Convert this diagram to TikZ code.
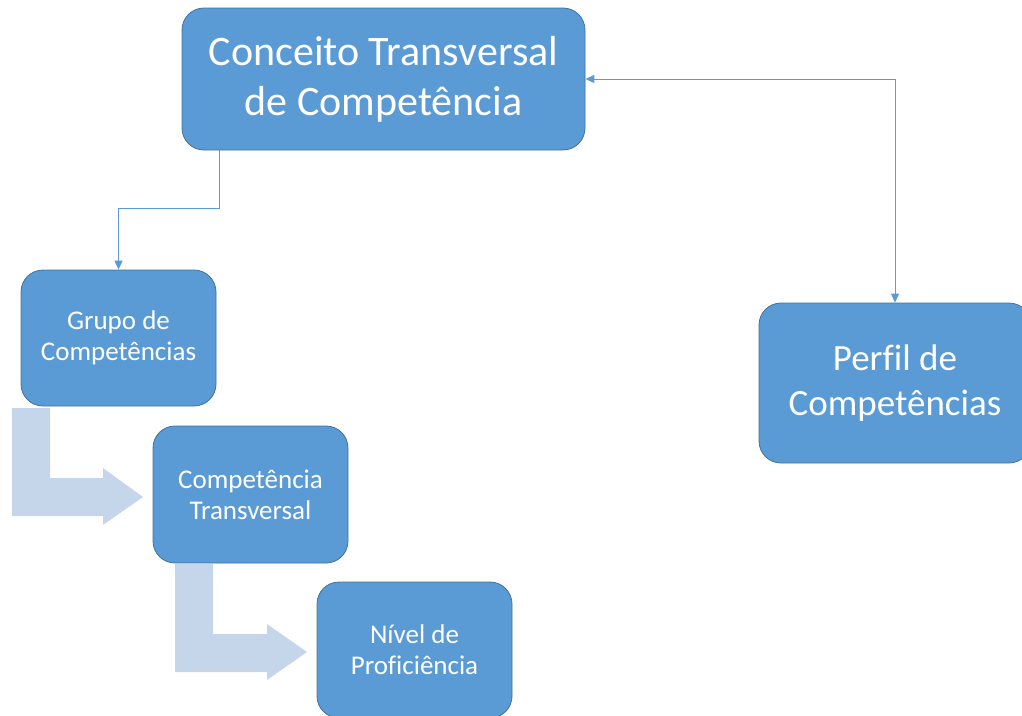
\documentclass[tikz,border=0pt]{standalone}
\usepackage{fontspec}
\setmainfont{Carlito}[Ligatures=NoCommon]
\usetikzlibrary{arrows.meta}
\definecolor{boxblue}{RGB}{91,155,213}
\definecolor{boxedge}{RGB}{65,113,156}
\definecolor{linkblue}{RGB}{91,155,213}
\definecolor{flowblue}{RGB}{197,213,234}
\tikzset{>={Triangle[width=8pt,length=9pt]}}
\tikzset{box/.style={draw=boxedge, line width=0.8pt, fill=boxblue, rounded corners=22pt, text=white, align=center, inner sep=0pt}}
\tikzset{link/.style={linkblue, line width=1pt}}

\begin{document}
\begin{tikzpicture}[x=1pt, y=-1pt]
\useasboundingbox (0,0) rectangle (1022,715);
% bent arrows
\fill[flowblue] (12,408) -- (50,408) -- (50,478) -- (103,478) -- (103,468) -- (143,497) -- (103,525) -- (103,516) -- (12,516) -- cycle;
\fill[flowblue] (175,564) -- (213,564) -- (213,634) -- (267,634) -- (267,624) -- (307,652) -- (267,680) -- (267,672) -- (175,672) -- cycle;
% boxes
\node[box, minimum width=403pt, minimum height=142pt, font=\fontsize{42}{50}\selectfont] (conceito) at (383.5,79) {Conceito Transversal\\de Competência};
\node[box, minimum width=195pt, minimum height=136pt, font=\fontsize{27}{31}\selectfont] (grupo) at (118.5,338) {Grupo de\\Competências};
\node[box, minimum width=195pt, minimum height=137pt, font=\fontsize{27}{31}\selectfont] (compt) at (250.5,494.5) {Competência\\Transversal};
\node[box, minimum width=195pt, minimum height=136pt, font=\fontsize{27}{31}\selectfont] (nivel) at (414.5,650) {Nível de\\Proficiência};
\node[box, minimum width=272pt, minimum height=160pt, font=\fontsize{37}{45}\selectfont] (perfil) at (895,383) {Perfil de\\Competências};
% links
\draw[link, ->] ([xshift=38pt]conceito.south west) -- ++(0,58) -| (grupo.north);
\draw[link, <->] (conceito.east) -| (perfil.north);
\end{tikzpicture}
\end{document}
